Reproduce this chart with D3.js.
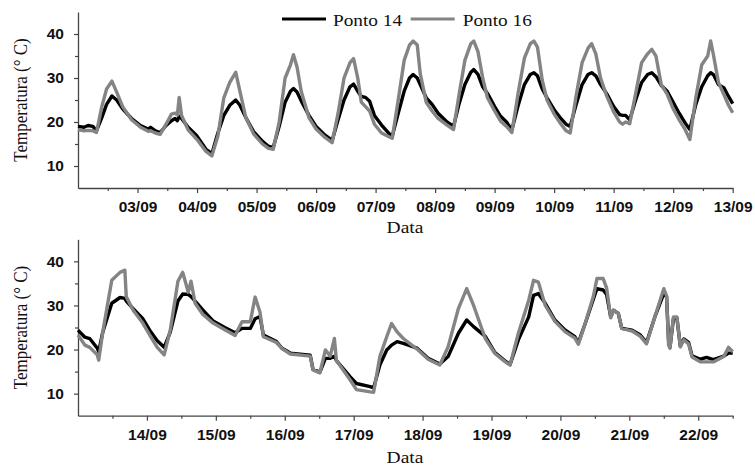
<!DOCTYPE html>
<html>
<head>
<meta charset="utf-8">
<script src="https://cdn.jsdelivr.net/npm/d3@7"></script>
<style>
  html, body { margin: 0; padding: 0; background: #fff; }
  svg { display: block; }
</style>
</head>
<body>
<svg id="chart" width="755" height="469"></svg>
<script>
// ---------- DATA ----------
// Top panel: days since 02/09 00:00
const topDays = [0.00,0.10,0.17,0.25,0.31,0.40,0.48,0.57,0.65,0.75,0.90,1.05,1.18,1.22,1.30,1.38,1.48,1.57,1.63,1.67,1.70,1.74,1.85,2.00,2.15,2.25,2.35,2.45,2.55,2.65,2.72,2.82,2.95,3.10,3.20,3.28,3.38,3.48,3.57,3.62,3.68,3.75,3.88,4.00,4.15,4.27,4.37,4.47,4.57,4.63,4.70,4.76,4.83,4.90,4.98,5.10,5.25,5.28,5.38,5.48,5.57,5.63,5.70,5.75,5.85,5.95,6.05,6.20,6.31,6.40,6.50,6.60,6.65,6.72,6.80,6.88,7.00,7.10,7.20,7.29,7.40,7.50,7.60,7.66,7.72,7.80,7.88,8.00,8.10,8.20,8.27,8.37,8.47,8.57,8.63,8.70,8.78,8.88,9.00,9.10,9.15,9.20,9.27,9.37,9.47,9.57,9.64,9.71,9.80,9.90,10.00,10.10,10.20,10.28,10.38,10.48,10.58,10.63,10.68,10.76,10.85,10.93,11.00];
const topP14 = [19.0,18.8,19.2,19.0,18.0,21.0,24.0,25.9,25.0,23.0,20.8,19.2,18.4,18.8,18.0,17.6,19.2,20.3,20.8,20.3,21.3,20.8,18.8,16.8,13.8,12.8,17.5,21.5,23.8,25.0,23.8,21.0,17.8,15.6,14.5,14.2,19.0,24.5,27.0,27.6,26.8,24.8,21.5,19.0,17.0,15.8,20.5,25.0,28.0,28.6,27.0,25.8,25.6,24.7,21.5,19.3,17.0,16.8,22.0,27.0,30.0,30.8,30.0,28.5,25.5,24.0,22.0,20.0,19.0,24.0,28.5,31.3,31.9,30.8,28.0,26.5,23.5,21.3,20.0,18.2,24.0,28.5,30.8,31.2,30.5,27.5,25.5,22.8,21.0,19.5,19.0,24.0,28.5,30.8,31.2,30.5,28.5,26.5,23.5,21.7,21.5,21.5,20.5,25.0,29.0,30.8,31.2,30.3,28.3,27.0,24.5,22.0,19.8,18.3,24.0,28.0,30.5,31.2,30.7,28.5,27.8,25.8,24.2];
const topP16 = [18.3,18.0,18.1,18.0,17.6,23.5,27.5,29.3,26.8,23.5,20.5,18.8,17.9,18.0,17.5,17.2,19.5,21.8,22.0,21.6,25.6,21.5,18.2,16.0,13.3,12.3,16.8,25.5,29.0,31.3,27.0,21.0,17.3,15.0,14.0,13.8,20.0,30.0,33.0,35.3,32.5,27.0,21.0,18.4,16.5,15.3,22.0,30.0,33.5,34.4,30.0,24.5,23.5,22.5,19.5,17.5,16.5,16.3,25.0,34.0,37.5,38.4,37.5,31.0,24.5,22.5,20.8,19.3,18.3,26.0,34.0,37.8,38.4,36.0,30.0,25.5,22.5,20.2,19.0,17.6,27.0,34.5,37.8,38.4,37.0,29.5,25.0,21.8,19.8,18.0,17.5,26.0,33.5,36.8,37.8,35.5,30.0,26.0,22.3,20.0,19.5,20.0,19.6,26.5,33.5,35.5,36.5,35.0,28.5,26.3,23.0,20.5,18.3,16.0,25.5,33.0,35.0,38.4,35.0,29.0,26.3,23.8,22.1];

// Bottom panel: days since 13/09 00:00
const botDays = [0.00,0.10,0.17,0.28,0.30,0.36,0.49,0.61,0.68,0.70,0.80,0.94,1.04,1.15,1.25,1.34,1.45,1.52,1.60,1.64,1.70,1.81,1.96,2.13,2.28,2.38,2.50,2.57,2.64,2.69,2.88,2.96,3.08,3.37,3.41,3.51,3.59,3.66,3.72,3.75,3.95,4.04,4.24,4.29,4.38,4.48,4.55,4.63,4.72,4.92,5.08,5.25,5.37,5.52,5.64,5.74,5.91,6.05,6.20,6.27,6.39,6.54,6.61,6.68,6.78,6.92,7.07,7.21,7.26,7.36,7.48,7.53,7.62,7.67,7.73,7.77,7.84,7.89,8.04,8.16,8.25,8.37,8.50,8.54,8.57,8.59,8.64,8.69,8.74,8.79,8.86,8.91,9.03,9.12,9.22,9.37,9.44,9.50];
const botP14 = [24.4,22.8,22.5,20.3,19.5,24.0,30.5,31.8,31.6,31.0,29.3,27.0,24.4,22.0,20.5,24.0,31.0,32.6,32.5,32.0,31.0,29.0,26.5,25.0,23.8,24.8,24.8,27.0,27.5,23.3,21.8,20.3,19.2,18.7,15.5,14.9,18.0,18.0,18.5,17.5,13.8,12.3,11.6,11.3,16.5,19.9,21.0,21.8,21.4,20.3,18.0,16.7,18.4,23.7,26.7,25.2,23.0,19.3,17.4,16.6,22.2,27.4,32.3,32.7,30.5,26.7,24.4,22.9,21.5,25.9,31.5,33.8,33.5,32.5,27.4,28.9,28.2,24.8,24.4,23.3,21.6,27.4,32.7,32.0,22.0,20.5,27.0,27.2,20.8,22.4,21.6,18.6,17.8,18.2,17.7,18.5,19.2,19.2];
const botP16 = [23.3,21.0,20.5,18.8,17.6,24.0,35.7,37.5,38.0,32.0,28.9,26.0,23.3,20.5,18.8,24.5,35.5,37.5,33.0,35.5,30.5,28.0,26.0,24.5,23.2,26.3,26.3,31.9,28.5,22.9,21.6,20.2,19.0,18.5,15.4,14.7,19.9,18.5,22.5,17.5,13.1,10.9,10.4,10.3,18.4,22.9,25.9,24.0,22.5,20.1,17.8,16.5,20.6,29.3,33.8,30.0,22.5,19.1,17.2,16.5,23.7,31.2,35.7,35.3,30.0,26.4,24.0,22.6,21.2,25.9,32.2,36.1,36.1,34.0,27.2,28.9,28.2,24.8,24.2,23.0,21.3,27.4,33.8,32.2,21.0,20.3,27.4,27.4,20.6,22.2,21.3,18.3,17.2,17.2,17.2,18.4,20.5,19.5];

const yMajorTicks = [10, 20, 30, 40];
const yMinorTicks = [15, 25, 35];
const seriesNames = ["Ponto 14", "Ponto 16"];
const seriesColors = ["#000000", "#848484"];
const xTitle = "Data";
const yTitle = "Temperatura (° C)";

// ---------- DRAW ----------
const DAY = 86400000;
const svg = d3.select("#chart");
const fmt = d3.utcFormat("%d/%m");

function panel(opt) {
  const start = Date.UTC(2013, 8, opt.startDay);
  const end = start + opt.spanDays * DAY;
  const x = d3.scaleUtc().domain([start, end]).range([78, 732.7]);
  const y = d3.scaleLinear().domain([5, 45]).range([opt.bottom, opt.top]);
  const g = svg.append("g");

  const toDate = d => start + d * DAY;
  const majors = d3.utcDay.range(start + DAY, end + 1);
  const minors = d3.utcHour.every(12).range(start + 1, end + 1).filter(d => d.getUTCHours() === 12);

  // x axis
  const xAxis = g.append("g").attr("transform", `translate(0,${opt.bottom})`)
    .call(d3.axisBottom(x).tickValues(majors).tickFormat(fmt).tickSize(5).tickSizeOuter(0));
  g.append("g").attr("transform", `translate(0,${opt.bottom})`)
    .call(d3.axisBottom(x).tickValues(minors).tickFormat("").tickSize(3).tickSizeOuter(0))
    .select(".domain").remove();
  // y axis
  const yAxis = g.append("g").attr("transform", "translate(78,0)")
    .call(d3.axisLeft(y).tickValues(yMajorTicks).tickFormat(d3.format("d")).tickSize(4).tickSizeOuter(0));
  g.append("g").attr("transform", "translate(78,0)")
    .call(d3.axisLeft(y).tickValues(yMinorTicks).tickFormat("").tickSize(3).tickSizeOuter(0))
    .select(".domain").remove();

  g.selectAll(".domain").attr("stroke", "#444").attr("stroke-width", 1.3);
  g.selectAll(".tick line").attr("stroke", "#444").attr("stroke-width", 1.2);
  xAxis.selectAll(".tick text").attr("y", 13).attr("dy", "0.71em")
    .attr("font-family", "Liberation Sans, Arial, sans-serif").attr("font-weight", "bold")
    .attr("font-size", 15.5).attr("fill", "#111");
  yAxis.selectAll(".tick text").attr("x", -14)
    .attr("font-family", "Liberation Sans, Arial, sans-serif").attr("font-weight", "bold")
    .attr("font-size", 15.5).attr("fill", "#111");

  // lines
  const series = [
    opt.days.map((d, i) => [toDate(d), opt.p14[i]]),
    opt.days.map((d, i) => [toDate(d), opt.p16[i]])
  ];
  const line = d3.line().x(d => x(d[0])).y(d => y(d[1]));
  series.forEach((s, i) => {
    g.append("path").datum(s).attr("d", line)
      .attr("fill", "none").attr("stroke", seriesColors[i])
      .attr("stroke-width", 3.4).attr("stroke-linejoin", "round");
  });

  // titles
  g.append("text").attr("transform", `translate(405,${opt.xTitleY}) scale(1.15,1)`)
    .attr("text-anchor", "middle").attr("font-family", "Liberation Serif, Times New Roman, serif")
    .attr("font-size", 17).attr("fill", "#111").text(xTitle);
  g.append("text").attr("transform", `translate(27,${(opt.top + opt.bottom) / 2}) rotate(-90) scale(1,1.15)`)
    .attr("text-anchor", "middle").attr("font-family", "Liberation Serif, Times New Roman, serif")
    .attr("font-size", 17).attr("fill", "#111").text(yTitle);
}

panel({ startDay: 2, spanDays: 11, top: 12, bottom: 188, days: topDays, p14: topP14, p16: topP16, xTitleY: 233 });
panel({ startDay: 13, spanDays: 9.5, top: 239.3, bottom: 415.7, days: botDays, p14: botP14, p16: botP16, xTitleY: 463 });

// legend
const legend = svg.append("g");
const legX = [282, 410.7];
const legTextX = [333, 462.7];
seriesNames.forEach((name, i) => {
  legend.append("line").attr("x1", legX[i]).attr("x2", legX[i] + 44).attr("y1", 19).attr("y2", 19)
    .attr("stroke", seriesColors[i]).attr("stroke-width", 3);
  legend.append("text").attr("transform", `translate(${legTextX[i]},25.5) scale(1.17,1)`)
    .attr("font-family", "Liberation Serif, Times New Roman, serif").attr("font-size", 16.5)
    .attr("fill", "#111").text(name);
});
</script>
</body>
</html>
